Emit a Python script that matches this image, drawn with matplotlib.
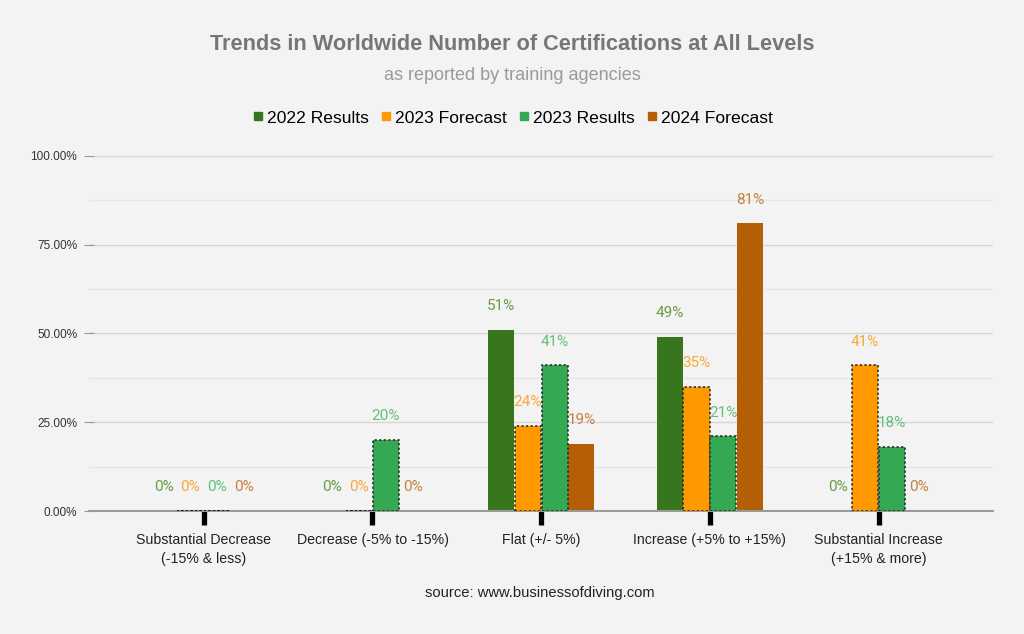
import numpy as np
import matplotlib.pyplot as plt
from matplotlib.lines import Line2D

categories = ["Substantial Decrease\n(-15% & less)", "Decrease (-5% to -15%)", "Flat (+/- 5%)",
              "Increase (+5% to +15%)", "Substantial Increase\n(+15% & more)"]
series_names = ["2022 Results", "2023 Forecast", "2023 Results", "2024 Forecast"]
r2022 = [0, 0, 51, 49, 0]
f2023 = [0, 0, 24, 35, 41]
r2023 = [0, 20, 41, 21, 18]
f2024 = [0, 0, 19, 81, 0]
values = [r2022, f2023, r2023, f2024]

bar_colors = ["#38761d", "#ff9900", "#34a853", "#b45f06"]
label_colors = ["#6a9a45", "#f7a83a", "#62c07a", "#c4803f"]
dotted = [False, True, True, False]

bg = "#f3f3f3"
fig = plt.figure(figsize=(10.24, 6.34), dpi=100, facecolor=bg)
ax = fig.add_axes([0.087, 0.194, 0.883, 0.56], facecolor=bg)

x = np.arange(len(categories))
w = 0.155
for i, vals in enumerate(values):
    pos = x + (i - 1.5) * 0.159
    v = np.array(vals) / 100
    if dotted[i]:
        ax.bar(pos, v, w, color=bar_colors[i], edgecolor="#222222", linewidth=1.1,
               linestyle=(0, (1.5, 1.5)), zorder=6)
    else:
        ax.bar(pos, v, w, color=bar_colors[i], edgecolor="none", zorder=3)
    for p, val in zip(pos, vals):
        ax.annotate(f"{val}%", (p, val / 100), xytext=(0, 17), textcoords="offset points",
                    ha="center", va="center", fontsize=11, color=label_colors[i],
                    family="Roboto", zorder=7)

ax.set_xlim(-0.68, 4.68)
ax.set_ylim(0, 1.0)
ax.set_yticks(np.arange(0, 1.01, 0.25))
ax.set_yticklabels([f"{t*100:.2f}%" for t in np.arange(0, 1.01, 0.25)],
                   fontsize=8.5, color="#333333", family="Liberation Sans")
ax.set_yticks(np.arange(0.125, 1.0, 0.25), minor=True)
ax.grid(axis="y", which="major", color="#d6d6d6", linewidth=1, zorder=0)
ax.grid(axis="y", which="minor", color="#e6e6e6", linewidth=1, zorder=0)
ax.tick_params(axis="y", which="major", direction="inout", length=7, color="#999999", pad=5)
ax.tick_params(axis="y", which="minor", length=0)

ax.set_xticks(x)
ax.set_xticklabels(categories, fontsize=10.2, color="#222222", family="Liberation Sans",
                   linespacing=1.4)
ax.tick_params(axis="x", length=10, width=3.8, color="black", pad=6)

for s in ["top", "right", "left"]:
    ax.spines[s].set_visible(False)
ax.spines["bottom"].set_color("#999999")
ax.spines["bottom"].set_linewidth(1.5)
ax.spines["bottom"].set_zorder(5)

fig.text(0.5, 0.930, "Trends in Worldwide Number of Certifications at All Levels",
         ha="center", va="center", fontsize=15.7, fontweight="bold", color="#767676",
         family="Liberation Sans")
fig.text(0.5, 0.881, "as reported by training agencies", ha="center", va="center",
         fontsize=13, color="#9a9a9a", family="Liberation Sans")

handles = [Line2D([], [], marker="s", linestyle="none", markersize=6,
                  markerfacecolor=c, markeredgecolor=c) for c in bar_colors]
fig.legend(handles, series_names, loc="center", bbox_to_anchor=(0.5, 0.814), ncol=4,
           frameon=False, handletextpad=0.1, columnspacing=0.6, handlelength=0.8,
           prop={"family": "Liberation Sans", "size": 12.6})

fig.text(0.527, 0.064, "source: www.businessofdiving.com", ha="center", va="center",
         fontsize=10.6, color="#222222", family="Liberation Sans")

fig.savefig("out.png", dpi=100, facecolor=bg)
